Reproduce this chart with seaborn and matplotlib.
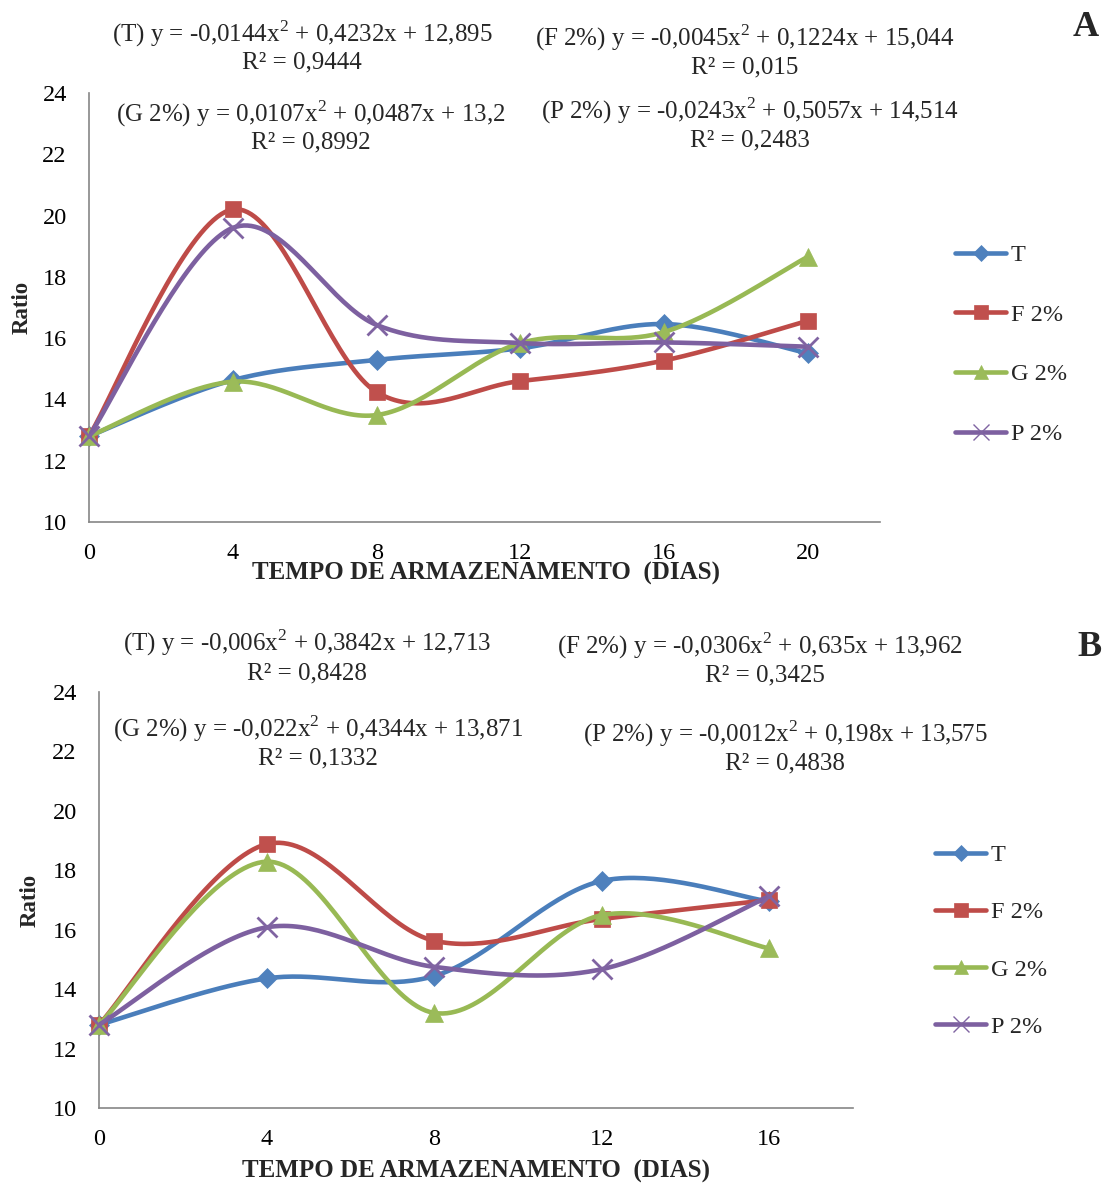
import numpy as np
import pandas as pd
import matplotlib
matplotlib.use("Agg")
import matplotlib.pyplot as plt
from matplotlib.lines import Line2D
import seaborn as sns

# ---- data -------------------------------------------------------------
days_a = [0, 4, 8, 12, 16, 20]
t_a = [12.8, 14.63, 15.29, 15.67, 16.46, 15.5]
f_a = [12.8, 20.2, 14.24, 14.6, 15.27, 16.57]
g_a = [12.8, 14.58, 13.49, 15.84, 16.2, 18.66]
p_a = [12.8, 19.6, 16.43, 15.84, 15.86, 15.72]

days_b = [0, 4, 8, 12, 16]
t_b = [12.8, 14.36, 14.44, 17.64, 16.95]
f_b = [12.8, 18.88, 15.63, 16.36, 17.0]
g_b = [12.8, 18.29, 13.2, 16.49, 15.37]
p_b = [12.8, 16.08, 14.75, 14.67, 17.13]

series_names = ["T", "F 2%", "G 2%", "P 2%"]
x_ticks_a = [0, 4, 8, 12, 16, 20]
x_ticks_b = [0, 4, 8, 12, 16]
y_ticks = [10, 12, 14, 16, 18, 20, 22, 24]

eq_a = [
    ("(T) y = -0,0144x$^2$ + 0,4232x + 12,895", "R² = 0,9444"),
    ("(F 2%) y = -0,0045x$^2$ + 0,1224x + 15,044", "R² = 0,015"),
    ("(G 2%) y = 0,0107x$^2$ + 0,0487x + 13,2", "R² = 0,8992"),
    ("(P 2%) y = -0,0243x$^2$ + 0,5057x + 14,514", "R² = 0,2483"),
]
eq_b = [
    ("(T) y = -0,006x$^2$ + 0,3842x + 12,713", "R² = 0,8428"),
    ("(F 2%) y = -0,0306x$^2$ + 0,635x + 13,962", "R² = 0,3425"),
    ("(G 2%) y = -0,022x$^2$ + 0,4344x + 13,871", "R² = 0,1332"),
    ("(P 2%) y = -0,0012x$^2$ + 0,198x + 13,575", "R² = 0,4838"),
]

# ---- style --------------------------------------------------------------
sns.set_style("white")
plt.rcParams["font.family"] = ["Liberation Serif", "DejaVu Serif"]
plt.rcParams["mathtext.fontset"] = "custom"
plt.rcParams["mathtext.rm"] = "Liberation Serif"

line_colors = ["#4A7EBB", "#BE4B48", "#98B954", "#7D60A0"]
mark_colors = ["#4F81BD", "#C0504D", "#9BBB59", "#8064A2"]
markers = ["D", "s", "^", "x"]
msizes = [10.5, 12, 13, 14]
axis_grey = "#868686"

EQ_FS = 18
TICK_FS = 17.5
LEG_FS = 17.5

W, H = 1104, 1184
fig = plt.figure(figsize=(W / 100, H / 100), dpi=100)


def fx(px):
    return px / W


def fy(py):
    return 1 - py / H


def smooth(x, y, n=40):
    """Bezier smoothing through every point (tension 1/6)."""
    P = np.column_stack([x, y]).astype(float)
    out = []
    t = np.linspace(0, 1, n)[:, None]
    for i in range(len(P) - 1):
        p0 = P[i - 1] if i > 0 else P[i]
        p1, p2 = P[i], P[i + 1]
        p3 = P[i + 2] if i + 2 < len(P) else P[i + 1]
        c1 = p1 + (p2 - p0) / 6
        c2 = p2 - (p3 - p1) / 6
        seg = (1 - t) ** 3 * p1 + 3 * (1 - t) ** 2 * t * c1 + 3 * (1 - t) * t ** 2 * c2 + t ** 3 * p2
        out.append(seg if i == 0 else seg[1:])
    return np.vstack(out)


def draw_panel(rect, days, values, xmax, xticks, eqs, eq_pos, letter, letter_pos,
               legend_anchor, legend_spacing, ylab_x, xlab_y):
    ax = fig.add_axes(rect)
    for k, (name, vals) in enumerate(zip(series_names, values)):
        curve = smooth(days, vals)
        df = pd.DataFrame({"x": curve[:, 0], "y": curve[:, 1]})
        sns.lineplot(data=df, x="x", y="y", ax=ax, sort=False, estimator=None,
                     color=line_colors[k], lw=3.3, zorder=2 + k)
        ax.plot(days, vals, linestyle="none", marker=markers[k], ms=msizes[k],
                color=mark_colors[k], mec=mark_colors[k],
                mew=2 if markers[k] == "x" else 0.5, zorder=2.5 + k, clip_on=False)
    ax.set_xlim(0, xmax)
    ax.set_ylim(10, 24)
    ax.set_xticks(xticks)
    ax.set_yticks(y_ticks)
    ax.set_xlabel("")
    ax.set_ylabel("")
    for s in ["top", "right"]:
        ax.spines[s].set_visible(False)
    for s in ["left", "bottom"]:
        ax.spines[s].set_color(axis_grey)
        ax.spines[s].set_linewidth(1.2)
    ax.tick_params(axis="both", direction="out", length=6, width=1.2,
                   color=axis_grey, labelsize=TICK_FS, labelcolor="black")
    ax.tick_params(axis="x", pad=9)
    ax.tick_params(axis="y", pad=10)

    # axis titles
    fig.text(fx(ylab_x[0]), fy(ylab_x[1]), "Ratio", rotation=90, fontsize=16.5,
             fontweight="bold", ha="center", va="center")
    fig.text(fx(xlab_y[0]), fy(xlab_y[1]), "TEMPO DE ARMAZENAMENTO  (DIAS)",
             fontsize=18, fontweight="bold", ha="center", va="center")

    # trend-line equations
    for (eq, r2), (cx, cy, rx, ry) in zip(eqs, eq_pos):
        fig.text(fx(cx), fy(cy), eq, fontsize=EQ_FS, ha="center", va="center")
        fig.text(fx(rx), fy(ry), r2, fontsize=EQ_FS, ha="center", va="center")

    fig.text(fx(letter_pos[0]), fy(letter_pos[1]), letter, fontsize=26,
             fontweight="bold", ha="center", va="center")

    handles = [Line2D([0], [0], color=line_colors[k], lw=3.3, marker=markers[k],
                      ms=msizes[k] * 0.8, mfc=mark_colors[k], mec=mark_colors[k],
                      mew=1 if markers[k] == "x" else 0.5)
               for k in range(4)]
    ax.legend(handles, series_names, loc="upper left",
              bbox_to_anchor=(fx(legend_anchor[0]), fy(legend_anchor[1])),
              bbox_transform=fig.transFigure, frameon=False, fontsize=LEG_FS,
              handlelength=2.1, handletextpad=0.2, labelspacing=legend_spacing,
              borderpad=0, borderaxespad=0)
    return ax


# panel A
draw_panel(
    rect=[fx(89), fy(522), fx(880 - 89), (522 - 93) / H],
    days=days_a, values=[t_a, f_a, g_a, p_a], xmax=22, xticks=x_ticks_a,
    eqs=eq_a,
    eq_pos=[(302, 34, 302, 62), (745, 38, 745, 67),
            (311, 114, 311, 142), (750, 111, 750, 140)],
    letter="A", letter_pos=(1086, 27),
    legend_anchor=(955, 244), legend_spacing=1.55,
    ylab_x=(22, 307), xlab_y=(486, 573),
)

# panel B
draw_panel(
    rect=[fx(99), fy(1108), fx(853 - 99), (1108 - 692) / H],
    days=days_b, values=[t_b, f_b, g_b, p_b], xmax=18, xticks=x_ticks_b,
    eqs=eq_b,
    eq_pos=[(307, 643, 307, 673), (760, 646, 765, 675),
            (318, 729, 318, 758), (785, 734, 785, 763)],
    letter="B", letter_pos=(1090, 648),
    legend_anchor=(935, 844), legend_spacing=1.45,
    ylab_x=(30, 900), xlab_y=(476, 1171),
)

fig.savefig("out.png", dpi=100, facecolor="white")
